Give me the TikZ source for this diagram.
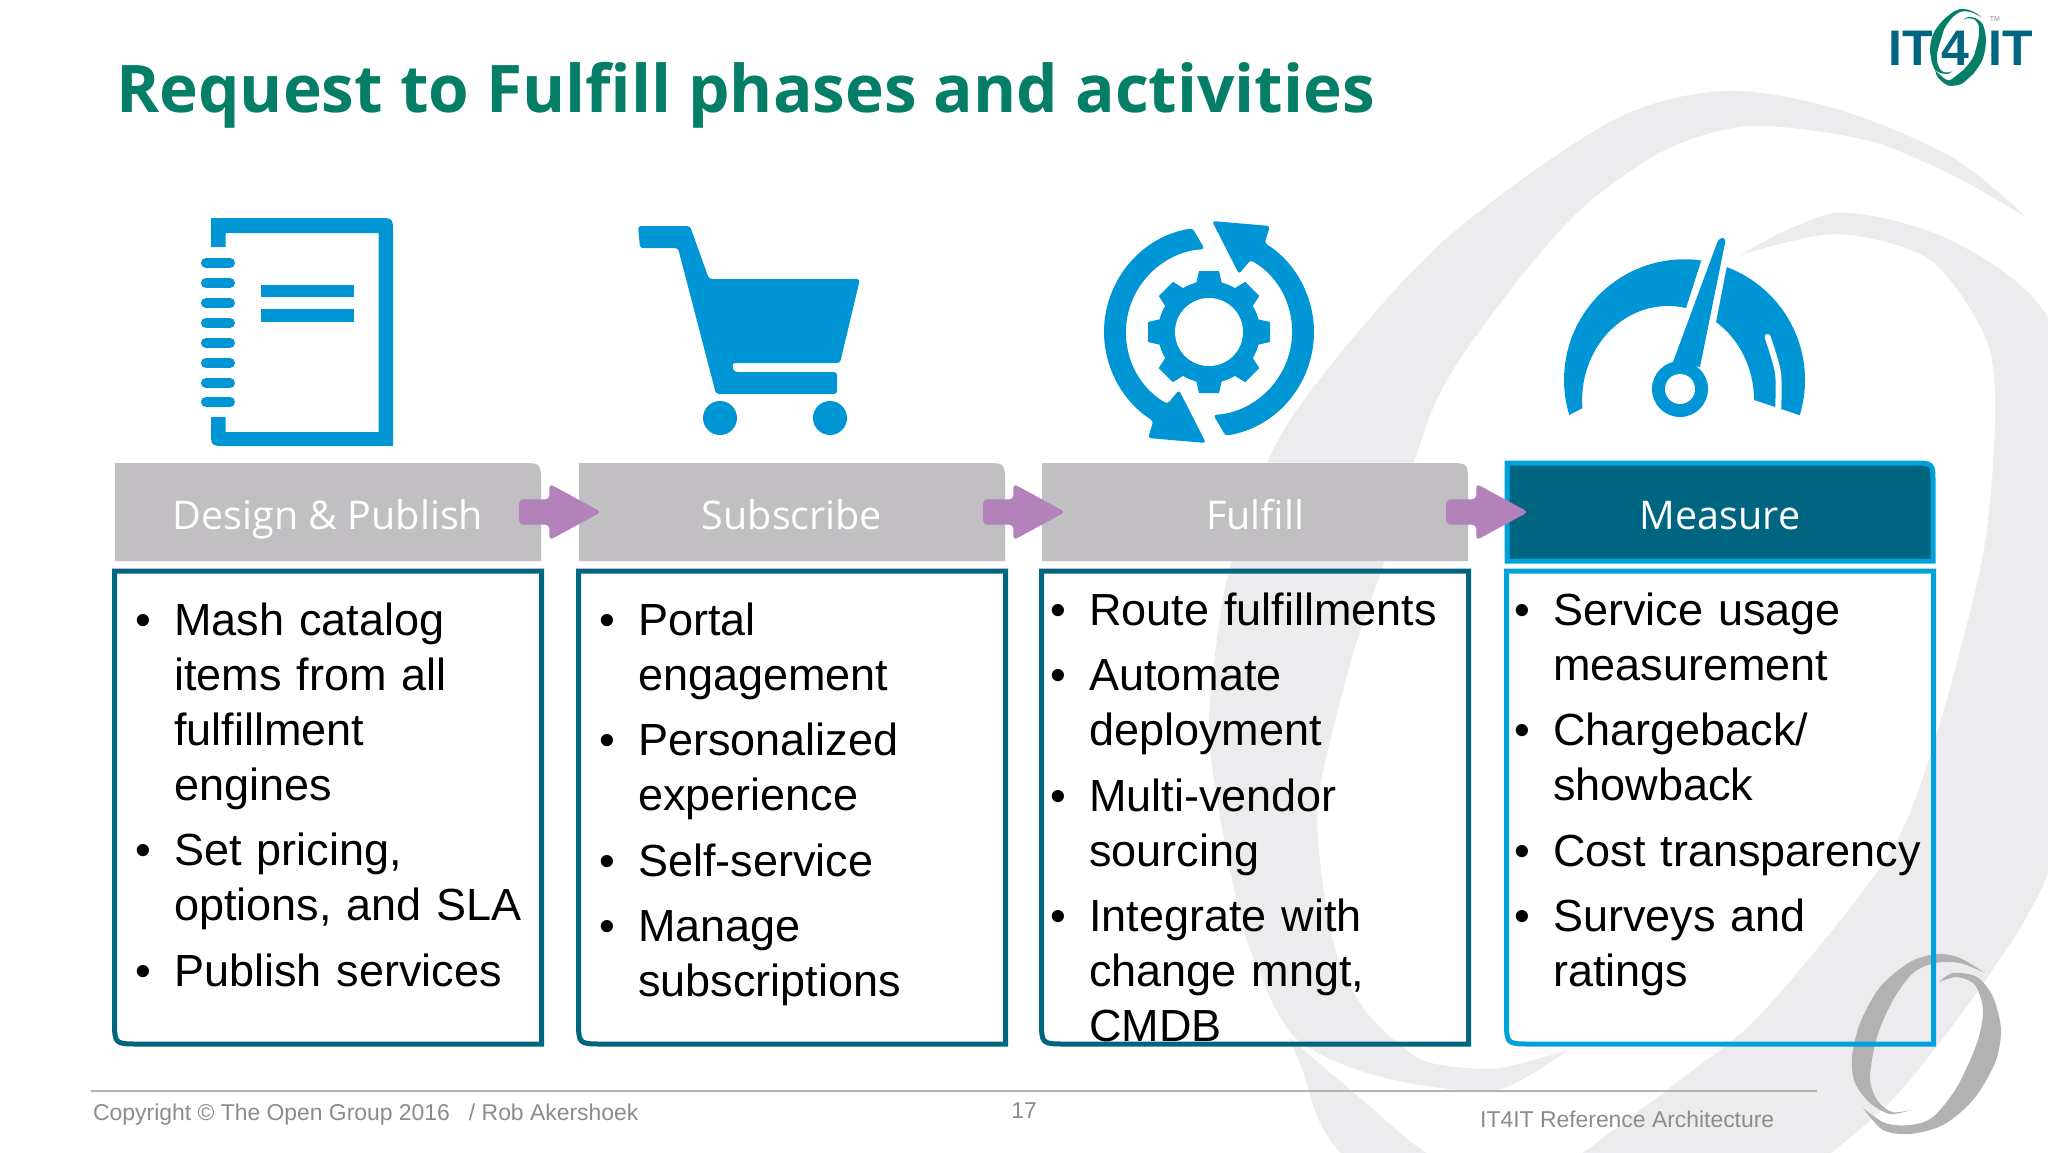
\documentclass[tikz,border=0pt]{standalone}
\usepackage{fontspec}
\setmainfont{Liberation Sans}
\newfontfamily\headfont{Open Sans}
\usepackage{xcolor}
\usepackage{tikz}
\usetikzlibrary{positioning, calc, shapes.arrows}

\definecolor{titlegreen}{HTML}{047E66}
\definecolor{iconblue}{HTML}{0096D6}
\definecolor{deepteal}{HTML}{006580}
\definecolor{brightblue}{HTML}{00A2DB}
\definecolor{headgray}{HTML}{C1BFC2}
\definecolor{arrowpurple}{HTML}{B481BB}
\definecolor{swirlgray}{HTML}{ECEBED}
\definecolor{ringgray}{HTML}{B2B2B2}
\definecolor{footgray}{HTML}{8C8C8C}

\pgfdeclarelayer{swirl}
\pgfdeclarelayer{panel}
\pgfsetlayers{swirl,panel,main}

% the two crescents of the ring, in page pixels
\newcommand{\ringshape}[1]{%
  \fill[#1] plot[smooth] coordinates {(2026,217) (1952,157) (1837,109) (1723,91) (1608,123) (1436,248) (1290,420) (1232,560) (1213,673) (1210,749) (1230,870) (1250,949) (1290,1032) (1347,1066) (1420,1085) (1500,1089) (1568,1050)}
    -- plot[smooth] coordinates {(1568,1050) (1500,1068) (1447,1066) (1413,1055) (1367,1013) (1337,956) (1320,862) (1320,787) (1353,654) (1385,560) (1436,401) (1505,297) (1580,210) (1665,150) (1751,126) (1866,140) (1952,175) (2026,217)} -- cycle;
  \fill[#1] plot[smooth] coordinates {(1740,255) (1837,213) (1952,241) (2048,318) (2100,500) (2095,700) (2048,873) (1989,975) (1902,1089) (1832,1152) (1700,1250) (1500,1270) (1340,1152) (1301,1066) (1289.5,1038)}
    -- plot[smooth] coordinates {(1289.5,1038) (1367,1104) (1425,1152) (1500,1190) (1560,1170) (1584,1152) (1680,1080) (1762,1013) (1884,862) (1930,756) (1982,560) (1995,420) (1986,339) (1930,260) (1837,234) (1740,255)} -- cycle;
}
\newcommand{\headshape}[2]{%
  \path[#2] (#1.south west) -- (#1.north west) -- ([xshift=-20pt]#1.north east) .. controls (#1.north east) .. ([yshift=-20pt]#1.north east) -- (#1.south east) -- cycle;
}
\newcommand{\listshape}[2]{%
  \draw[line width=5pt, #2] (#1.north west) -- (#1.north east) -- (#1.south east) -- ([xshift=24pt]#1.south west) .. controls (#1.south west) .. ([yshift=24pt]#1.south west) -- cycle;
}
\newcommand{\bitem}[1]{\hangindent=39pt\hangafter=1\noindent\makebox[39pt][l]{\textbullet}#1\par}

\begin{document}
\begin{tikzpicture}[
    x=1pt, y=-1pt,
    headnode/.style={minimum width=426pt, minimum height=98pt, inner sep=0pt, outer sep=0pt, text=white, text height=44pt, text depth=10pt, font=\headfont\fontsize{39.5}{46}\selectfont},
    listnode/.style={minimum width=427pt, minimum height=473pt, inner sep=0pt, outer sep=0pt},
    listtext/.style={anchor=base west, inner sep=0pt, text width=430pt, align=left, font=\fontsize{45}{55}\selectfont},
    flowarrow/.style={single arrow, fill=arrowpurple, minimum height=82pt, minimum width=56pt, inner xsep=0pt, inner ysep=12.5pt, single arrow head extend=15.5pt, single arrow tip angle=57, rounded corners=4pt},
    footnode/.style={text=footgray, font=\fontsize{22.9}{28}\selectfont, inner sep=0pt},
    iconfill/.style={fill=iconblue, rounded corners=3pt}
]
\useasboundingbox (0,0) rectangle (2048,1152);

\begin{pgfonlayer}{swirl}
\fill[white] (0,0) rectangle (2048,1152);
\begin{scope}
\clip (0,0) rectangle (2048,1152);
\ringshape{swirlgray}
\end{scope}
% small ring
\fill[ringgray] plot[smooth] coordinates {(1985,973) (1960,958) (1937,954) (1910,962) (1880,987) (1860,1023) (1852,1057) (1855,1083) (1870,1103) (1890,1114) (1911,1110)}
  -- plot[smooth] coordinates {(1911,1110) (1892,1112) (1877,1100) (1870,1077) (1877,1037) (1893,1000) (1913,973) (1935,963) (1960,963) (1985,973)} -- cycle;
\fill[ringgray] plot[smooth] coordinates {(1939,982) (1953,973) (1977,977) (1993,997) (2001,1030) (1995,1063) (1973,1100) (1943,1125) (1910,1134) (1883,1130) (1863,1108)}
  -- plot[smooth] coordinates {(1863,1108) (1885,1123) (1910,1125) (1933,1117) (1957,1087) (1977,1043) (1983,1010) (1975,985) (1957,977) (1939,982)} -- cycle;
\end{pgfonlayer}

% title and logo
\node[anchor=base west, inner sep=0pt, text=titlegreen, font=\headfont\bfseries\fontsize{65.7}{76}\selectfont] (title) at (116,112) {Request to Fulfill phases and activities};
\node[inner sep=0pt, text=deepteal, font=\bfseries\fontsize{50}{56}\selectfont] (logoa) at (1911,48) {IT};
\node[inner sep=0pt, text=deepteal, font=\bfseries\fontsize{50}{56}\selectfont] (logob) at (1955,48) {4};
\node[inner sep=0pt, text=deepteal, font=\bfseries\fontsize{50}{56}\selectfont] (logoc) at (2011,48) {IT};
\node[inner sep=0pt, text=footgray, font=\fontsize{7}{8}\selectfont] (logotm) at (1995,19) {TM};
\begin{scope}[shift={(1854.4,3)}, xscale=0.0625, yscale=0.065]
\ringshape{titlegreen}
\end{scope}

% phases
\node[headnode] (head1) at (328,512) {Design \& Publish};
\node[headnode] (head2) [right = 38pt of head1] {Subscribe};
\node[headnode] (head3) [right = 37pt of head2] {Fulfill};
\node[headnode] (head4) [right = 39pt of head3] {Measure};

\node[flowarrow] (arrow1) [right = -22pt of head1] {};
\node[flowarrow] (arrow2) [right = -22pt of head2] {};
\node[flowarrow] (arrow3) [right = -22pt of head3] {};

\node[listnode] (list1) [below = 10pt of head1] {};
\node[listnode] (list2) [below = 10pt of head2] {};
\node[listnode] (list3) [below = 10pt of head3] {};
\node[listnode] (list4) [below = 10pt of head4] {};

\begin{pgfonlayer}{panel}
\headshape{head1}{fill=headgray}
\headshape{head2}{fill=headgray}
\headshape{head3}{fill=headgray}
\headshape{head4}{fill=deepteal, draw=brightblue, line width=5pt}
\listshape{list1}{draw=deepteal}
\listshape{list2}{draw=deepteal}
\listshape{list3}{draw=deepteal}
\listshape{list4}{draw=brightblue}
\end{pgfonlayer}

\node[listtext] (text1) at ([xshift=20.5pt,yshift=-64pt]list1.north west) {\setlength{\parskip}{10.5pt}%
\bitem{Mash catalog\newline items from all\newline fulfillment\newline engines}
\bitem{Set pricing,\newline options, and SLA}
\bitem{Publish services}};
\node[listtext] (text2) at ([xshift=20.5pt,yshift=-64pt]list2.north west) {\setlength{\parskip}{10.5pt}%
\bitem{Portal\newline engagement}
\bitem{Personalized\newline experience}
\bitem{Self-service}
\bitem{Manage\newline subscriptions}};
\node[listtext] (text3) at ([xshift=8.5pt,yshift=-54pt]list3.north west) {\setlength{\parskip}{10.5pt}%
\bitem{Route fulfillments}
\bitem{Automate\newline deployment}
\bitem{Multi-vendor\newline sourcing}
\bitem{Integrate with\newline change mngt,\newline CMDB}};
\node[listtext] (text4) at ([xshift=7.5pt,yshift=-54pt]list4.north west) {\setlength{\parskip}{10.5pt}%
\bitem{Service usage\newline measurement}
\bitem{Chargeback/\newline showback}
\bitem{Cost transparency}
\bitem{Surveys and\newline ratings}};

% notebook icon
\fill[iconblue] (211,247) -- (211,218) -- (378,218) .. controls (393,218) .. (393,233) -- (393,446) -- (226,446) .. controls (211,446) .. (211,431) -- (211,417) -- (225.5,417) -- (225.5,432) -- (378.6,432) -- (378.6,233) -- (225.5,233) -- (225.5,247) -- cycle;
\foreach \y in {263,283,303,323,343,363,383,402}
  \draw[iconblue, line width=10pt, line cap=round] (206,\y) -- (230,\y);
\fill[iconblue] (261,285) rectangle (354,297);
\fill[iconblue] (261,309) rectangle (354,322);

% cart icon
\fill[iconfill] (638,226) -- (690,226) -- (709,279) -- (860,279) -- (840,363) -- (732,363) -- (734,372) -- (837,372) -- (837,394) -- (716,394) -- (678,248) -- (640,248) -- cycle;
\fill[iconblue] (720,418) circle (17pt);
\fill[iconblue] (830,418) circle (17pt);

% refresh icon
\coordinate (refresh) at (1209,332);
\foreach \ang in {0,180}
  \fill[iconfill, rotate around={\ang:(refresh)}] (1192.6,228.3) arc[start angle=99, end angle=238, radius=105pt] -- (1148,438) -- (1206,443) -- (1179,390) -- (1167.5,403.9) arc[start angle=240, end angle=93, radius=83pt] -- cycle;
\fill[iconblue] (refresh) circle (51pt);
\foreach \ang in {0,45,...,315}
  \fill[iconblue, rotate around={\ang:(refresh)}] (1196,284) -- (1199,271) -- (1219,271) -- (1222,284) -- cycle;
\fill[white] (refresh) circle (34pt);

% gauge icon
\fill[iconblue] (1569.3,415) arc[start angle=197, end angle=82, radius=120.5pt] -- (1686,308) arc[start angle=78, end angle=185, x radius=86pt, y radius=94pt] -- cycle;
\fill[iconblue] (1726.7,267.1) arc[start angle=69.5, end angle=-17, radius=120.5pt] -- (1754,400) arc[start angle=0, end angle=56, x radius=86pt, y radius=94pt] -- cycle;
\draw[white, line width=6pt, line cap=round] plot[smooth] coordinates {(1767.6,337) (1778,373) (1778,412)};
\fill[iconblue] (1717,243) .. controls (1720,236) and (1726,236) .. (1725,243) -- (1700,367) -- (1673,362) -- cycle;
\fill[iconblue] (1680,389) circle (28pt);
\fill[white] (1680,389) circle (15pt);

% footer
\coordinate (footstart) at (91,1091);
\coordinate (footend) at (1817,1091);
\draw[gray!60, line width=1.5pt] (footstart) -- (footend);
\node[footnode, anchor=west] (copy) at (93,1115) {Copyright © The Open Group 2016 \ \ / Rob Akershoek};
\node[footnode] (pagenum) at (1024,1111) {17};
\node[footnode, anchor=west] (refarch) at (1480,1119) {IT4IT Reference Architecture};
\end{tikzpicture}
\end{document}
